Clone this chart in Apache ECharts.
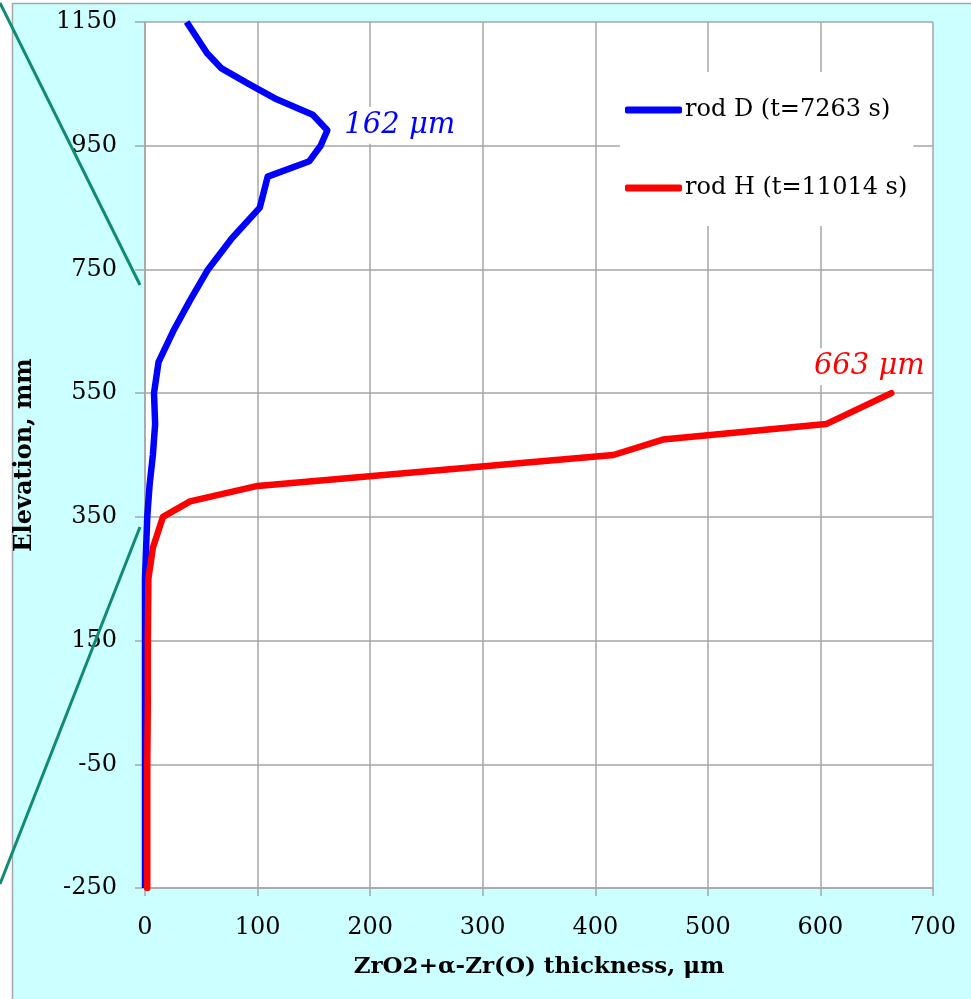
<!DOCTYPE html>
<html>
<head>
<meta charset="utf-8">
<script src="https://cdn.jsdelivr.net/npm/echarts@6/dist/echarts.min.js"></script>
<style>
  html, body { margin: 0; padding: 0; background: #fff; }
  #chart { width: 971px; height: 999px; }
</style>
</head>
<body>
<div id="chart"></div>
<script>
// rod D, thickness (µm) against elevation (mm)
var rodDThick = [37, 55, 68, 92, 117, 149, 162, 156, 146, 109, 102, 77, 56, 40, 25, 12, 8, 9, 7, 4, 2, 1, 0, 0];
var rodDElev  = [1150, 1100, 1075, 1050, 1025, 1000, 975, 950, 925, 900, 850, 800, 750, 700, 650, 600, 550, 500, 450, 400, 350, 300, 250, -250];

// rod H
var rodHThick = [663, 605, 460, 416, 100, 40, 16, 7, 3, 2.5, 2.5, 2, 2, 2];
var rodHElev  = [550, 500, 475, 450, 400, 375, 350, 300, 250, 150, 50, -50, -150, -250];

var seriesNames = ['rod D (t=7263 s)', 'rod H (t=11014 s)'];
var peakLabels = ['162 μm', '663 μm'];
var xTicks = [0, 700, 100];
var yTicks = [-250, 1150, 200];

var serif = 'DejaVu Serif';

function pairs(xs, ys) {
	var out = [];
	for (var i = 0; i < xs.length; i++) {
		out.push([xs[i], ys[i]]);
	}
	return out;
}

// marker at the point with the largest thickness, showing its value
function peakMark(xs, ys, text, color, pos) {
	var k = xs.indexOf(Math.max.apply(null, xs));
	return {
		silent: true,
		symbol: 'circle',
		symbolSize: 0,
		data: [{
			coord: [xs[k], ys[k]],
			label: {
				show: true,
				formatter: text,
				color: color,
				fontFamily: serif,
				fontStyle: 'italic',
				fontSize: 29,
				backgroundColor: '#fff',
				padding: [4, 3, 4, 3],
				position: pos.position,
				distance: pos.distance,
				offset: pos.offset
			}
		}]
	};
}

var chart = echarts.init(document.getElementById('chart'));

var option = {
	backgroundColor: '#fff',
	animation: false,
	graphic: [
		{
			type: 'rect',
			z: -10,
			shape: { x: 12.5, y: 3.5, width: 980, height: 1010 },
			style: { fill: '#ccffff', stroke: '#a6a6a6', lineWidth: 1.5 }
		},
		{
			type: 'line',
			z: 100,
			shape: { x1: 0, y1: 3, x2: 140, y2: 285 },
			style: { stroke: '#118a72', lineWidth: 3 }
		},
		{
			type: 'line',
			z: 100,
			shape: { x1: 140, y1: 527, x2: 0, y2: 884 },
			style: { stroke: '#118a72', lineWidth: 3 }
		}
	],
	grid: {
		left: 145,
		right: 38,
		top: 22,
		bottom: 111,
		show: true,
		backgroundColor: '#fff',
		borderWidth: 0
	},
	legend: {
		orient: 'vertical',
		left: 620,
		top: 72,
		padding: [23, 6, 23, 5],
		backgroundColor: '#fff',
		itemWidth: 57,
		itemHeight: 7,
		itemGap: 48,
		icon: 'roundRect',
		textStyle: { fontFamily: serif, fontSize: 24, color: '#000', lineHeight: 30, padding: [0, 0, 0, -2] },
		data: seriesNames
	},
	xAxis: {
		type: 'value',
		min: xTicks[0],
		max: xTicks[1],
		interval: xTicks[2],
		name: 'ZrO2+α-Zr(O) thickness, μm',
		nameLocation: 'middle',
		nameGap: 68,
		nameTextStyle: { fontFamily: serif, fontWeight: 'bold', fontSize: 23, color: '#000' },
		axisLine: { show: true, onZero: false, lineStyle: { color: '#a6a6a6', width: 1.5 } },
		axisTick: { show: true, length: 8, lineStyle: { color: '#a6a6a6', width: 1.5 } },
		axisLabel: { fontFamily: serif, fontSize: 24, color: '#000', margin: 28 },
		splitLine: { show: true, lineStyle: { color: '#a6a6a6', width: 1.5 } }
	},
	yAxis: {
		type: 'value',
		min: yTicks[0],
		max: yTicks[1],
		interval: yTicks[2],
		name: 'Elevation, mm',
		nameLocation: 'middle',
		nameGap: 108,
		nameRotate: 90,
		nameTextStyle: { fontFamily: serif, fontWeight: 'bold', fontSize: 24, color: '#000' },
		axisLine: { show: true, onZero: false, lineStyle: { color: '#a6a6a6', width: 1.5 } },
		axisTick: { show: true, length: 10, lineStyle: { color: '#a6a6a6', width: 1.5 } },
		axisLabel: {
			fontFamily: serif, fontSize: 24, color: '#000', margin: 28,
			formatter: function (v) { return String(v); }
		},
		splitLine: { show: true, lineStyle: { color: '#a6a6a6', width: 1.5 } }
	},
	series: [
		{
			name: seriesNames[0],
			type: 'line',
			color: '#0000ff',
			showSymbol: false,
			symbol: 'none',
			lineStyle: { width: 6.5, color: '#0000ff', join: 'round' },
			data: pairs(rodDThick, rodDElev),
			markPoint: peakMark(rodDThick, rodDElev, peakLabels[0], '#0000ff',
				{ position: 'right', distance: 14, offset: [0, -5] }),
			z: 3
		},
		{
			name: seriesNames[1],
			type: 'line',
			color: '#ff0000',
			showSymbol: false,
			symbol: 'none',
			lineStyle: { width: 6.5, color: '#ff0000', join: 'round', cap: 'round' },
			data: pairs(rodHThick, rodHElev),
			markPoint: peakMark(rodHThick, rodHElev, peakLabels[1], '#ff0000',
				{ position: 'top', distance: 8, offset: [-22, 0] }),
			z: 4
		}
	]
};

chart.setOption(option);
</script>
</body>
</html>
